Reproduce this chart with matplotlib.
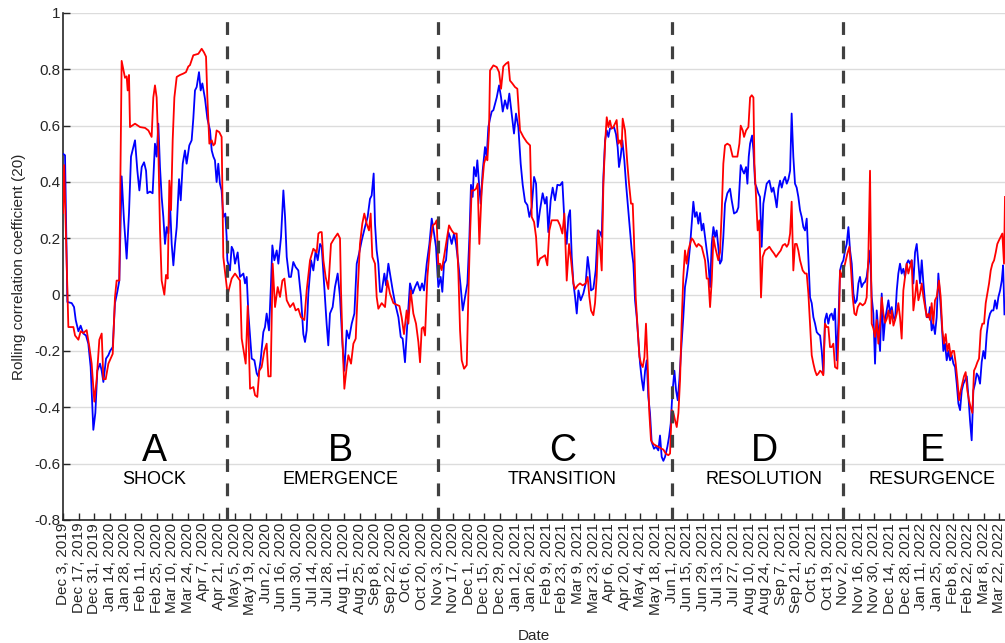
import numpy as np
import pandas as pd
import matplotlib
matplotlib.use("Agg")
import matplotlib.pyplot as plt

plt.rcParams["font.family"] = ["Liberation Sans", "DejaVu Sans"]

start = pd.Timestamp("2019-12-03")

# (days since Dec 3 2019, rolling correlation)
red_pts = [
    (0, 0.29), (1, 0.46), (4.8, -0.115), (9.3, -0.115), (10.8, -0.145), (13.8, -0.16),
    (15.8, -0.13), (18.2, -0.136), (21.2, -0.126), (23.6, -0.185), (25.7, -0.245),
    (28.1, -0.38), (30.2, -0.30), (32.6, -0.16), (34.7, -0.138), (36.2, -0.30),
    (38.3, -0.30), (40.7, -0.245), (44.6, -0.21), (46.6, -0.01), (48.1, 0.05),
    (50.5, 0.05), (52.6, 0.83), (55.6, 0.77), (57.1, 0.775), (58.0, 0.725), (59.2, 0.78),
    (60.1, 0.595), (64.6, 0.607), (69.1, 0.595), (73.6, 0.592), (76.6, 0.583),
    (79.5, 0.56), (81.0, 0.70), (82.5, 0.743), (84.0, 0.70), (85.5, 0.524), (87.0, 0.23),
    (88.5, 0.05), (90.9, 0.0), (92.4, 0.07), (93.9, 0.057), (95.4, 0.405), (96.9, 0.30),
    (98.4, 0.55), (99.9, 0.70), (102.0, 0.773), (105.0, 0.78), (108.0, 0.785),
    (110.3, 0.79), (112.4, 0.81), (113.9, 0.815), (116.9, 0.85), (121.4, 0.855),
    (124.4, 0.873), (126.5, 0.86), (128.3, 0.845), (129.5, 0.70), (131.3, 0.536),
    (133.4, 0.548), (134.9, 0.53), (136.3, 0.536), (137.8, 0.583), (140.2, 0.577),
    (142.3, 0.56), (143.8, 0.134), (146.2, 0.05), (147.7, 0.0),
    # phase B
    (151.3, 0.057), (154.3, 0.075), (158.8, 0.05), (160.3, -0.156), (163.9, -0.245),
    (165.7, -0.04), (167.8, -0.334), (170.8, -0.328), (172.3, -0.357), (174.3, -0.363),
    (176.1, -0.27), (178.2, -0.257), (180.6, -0.2), (182.7, -0.174), (184.2, -0.29),
    (186.3, -0.29), (188.1, 0.11), (190.2, -0.044), (192.6, 0.027), (194.7, -0.008),
    (196.8, 0.05), (198.6, 0.057), (200.7, -0.02), (203.7, -0.044), (206.6, -0.03),
    (208.7, -0.056), (211.1, -0.05), (213.5, -0.08), (216.5, -0.09), (218.6, 0.015),
    (221.6, 0.122), (224.6, 0.163), (227.6, 0.15), (229.1, 0.217), (230.6, 0.222),
    (232.1, 0.222), (233.6, 0.122), (235.6, 0.063), (238.0, 0.02), (240.4, 0.18),
    (243.4, 0.2), (246.4, 0.217), (248.5, 0.2), (249.4, 0.015), (250.6, -0.15),
    (252.4, -0.334), (254.5, -0.257), (256.0, -0.215), (258.4, -0.245), (260.5, -0.174),
    (262.6, -0.156), (264.4, 0.015), (266.4, 0.18), (268.5, 0.252), (270.3, 0.288),
    (272.4, 0.252), (274.5, 0.228), (276.0, 0.288), (277.5, 0.134), (279.9, 0.11),
    (281.4, -0.008), (282.9, -0.05), (285.9, -0.03), (288.9, -0.044), (291.0, 0.05),
    (293.3, 0.004), (296.4, -0.03), (299.4, -0.036), (301.8, -0.04), (303.8, -0.08),
    (305.9, -0.14), (308.3, -0.056), (309.8, -0.103), (311.9, 0.015), (314.3, -0.067),
    (316.7, -0.103), (318.8, -0.168), (320.3, -0.24), (321.8, -0.12), (323.3, -0.115),
    (324.8, -0.145), (326.9, 0.063), (329.3, 0.18), (331.7, 0.246), (333.7, 0.252),
    (335.2, 0.264),
    # phase C
    (337.0, 0.075), (338.2, 0.11), (339.7, 0.087), (341.8, 0.134), (344.2, 0.193),
    (346.3, 0.246), (348.7, 0.228), (350.8, 0.217), (353.2, 0.217), (354.7, 0.075),
    (356.2, -0.127), (357.7, -0.233), (359.8, -0.263), (362.2, -0.25), (363.6, -0.01),
    (365.1, 0.205), (366.6, 0.37), (368.7, 0.37), (370.5, 0.376), (372.0, 0.394),
    (373.5, 0.18), (375.6, 0.37), (377.7, 0.465), (379.5, 0.49), (380.7, 0.477),
    (382.2, 0.583), (383.1, 0.796), (386.1, 0.814), (389.1, 0.808), (391.2, 0.79),
    (393.0, 0.731), (395.0, 0.81), (397.4, 0.82), (399.5, 0.826), (401.0, 0.76),
    (403.1, 0.75), (405.5, 0.737), (407.6, 0.731), (410.0, 0.583), (413.0, 0.56),
    (416.0, 0.542), (419.0, 0.53), (420.5, 0.276), (422.6, 0.258), (424.4, 0.205),
    (425.9, 0.104), (427.9, 0.128), (430.3, 0.134), (432.4, 0.14), (434.5, 0.104),
    (436.3, 0.228), (438.4, 0.264), (441.4, 0.264), (443.8, 0.264), (445.9, 0.246),
    (448.0, 0.217), (449.8, 0.288), (451.9, 0.05), (454.0, 0.18), (455.8, 0.122),
    (457.9, 0.04), (459.4, 0.02), (461.7, 0.033), (463.8, 0.04), (466.2, 0.033),
    (468.9, 0.04), (470.7, 0.063), (472.2, -0.008), (473.7, -0.056), (475.8, -0.073),
    (477.3, -0.03), (478.8, 0.063), (480.3, 0.228), (481.8, 0.17), (483.3, 0.086),
    (484.8, 0.394), (486.3, 0.536), (487.8, 0.63), (489.3, 0.595), (490.7, 0.618),
    (492.2, 0.59), (493.7, 0.595), (495.2, 0.607), (496.7, 0.62), (498.2, 0.536),
    (499.7, 0.548), (501.2, 0.524), (502.1, 0.625), (504.2, 0.583), (506.3, 0.465),
    (507.8, 0.394), (509.6, 0.323), (511.1, 0.323), (512.3, 0.193), (513.8, -0.01),
    (515.6, -0.127), (517.1, -0.22), (518.6, -0.245), (520.1, -0.257), (521.6, -0.222),
    (523.0, -0.103), (524.5, -0.245), (526.0, -0.42), (527.5, -0.517), (529.6, -0.53),
    (532.0, -0.536), (534.1, -0.54), (536.5, -0.546), (538.6, -0.55), (540.7, -0.564),
    (543.1, -0.57), (544.6, -0.564),
    # phase D
    (546.1, -0.41), (547.6, -0.42), (549.1, -0.446), (550.6, -0.47), (552.1, -0.42),
    (553.6, -0.3), (555.0, -0.103), (556.5, 0.063), (558.0, 0.157), (559.5, 0.11),
    (561.0, 0.157), (562.5, 0.18), (564.0, 0.2), (565.5, 0.193), (567.0, 0.18),
    (568.5, 0.17), (570.0, 0.18), (573.0, 0.17), (576.0, 0.122), (577.5, 0.057),
    (579.0, 0.057), (580.5, -0.044), (582.0, 0.05), (583.5, 0.205), (585.0, 0.17),
    (586.4, 0.146), (587.9, 0.122), (589.4, 0.15), (590.9, 0.288), (592.4, 0.465),
    (593.9, 0.53), (596.0, 0.536), (598.4, 0.53), (600.8, 0.49), (602.9, 0.49),
    (605.0, 0.49), (606.8, 0.536), (608.0, 0.60), (609.8, 0.583), (611.0, 0.56),
    (612.8, 0.583), (614.9, 0.595), (616.4, 0.70), (617.9, 0.708), (619.4, 0.70),
    (620.3, 0.465), (621.7, 0.347), (623.2, 0.228), (624.7, 0.264), (626.2, -0.01),
    (627.7, 0.134), (629.8, 0.157), (631.9, 0.163), (633.7, 0.17), (635.8, 0.157),
    (637.9, 0.146), (639.7, 0.134), (641.8, 0.146), (643.9, 0.157), (645.7, 0.175),
    (647.8, 0.18), (649.3, 0.17), (650.8, 0.18), (652.3, 0.217), (653.7, 0.33),
    (655.2, 0.086), (656.7, 0.18), (658.2, 0.18), (659.7, 0.157), (661.2, 0.122),
    (663.6, 0.086), (665.7, 0.075), (667.2, 0.075), (668.7, 0.004), (670.2, -0.103),
    (671.7, -0.215), (673.2, -0.245), (674.7, -0.27), (676.2, -0.286), (677.7, -0.28),
    (679.2, -0.27), (680.7, -0.275), (682.1, -0.286), (683.6, -0.103), (685.1, -0.115),
    (686.6, -0.115), (688.1, -0.186), (689.6, -0.186), (691.1, -0.174), (692.6, -0.257),
    (694.7, -0.263), (696.2, -0.09),
    # phase E
    (697.1, 0.086), (698.6, 0.063), (700.1, 0.086), (701.6, 0.11), (703.7, 0.146),
    (705.5, 0.17), (707.0, 0.086), (708.5, -0.01), (710.0, -0.067), (711.5, -0.073),
    (713.0, -0.044), (715.0, -0.03), (717.4, -0.038), (719.5, -0.03), (721.0, -0.01),
    (722.5, 0.134), (724.0, 0.44), (725.5, -0.103), (727.0, -0.12), (728.5, -0.15),
    (730.0, -0.09), (731.5, -0.174), (733.0, -0.103), (734.5, -0.01), (736.0, -0.067),
    (737.5, -0.1), (739.0, -0.086), (740.5, -0.056), (742.0, -0.103), (743.5, -0.056),
    (745.0, -0.11), (746.5, -0.09), (748.0, -0.067), (749.4, -0.03), (750.9, -0.08),
    (752.4, -0.156), (753.9, 0.015), (755.4, 0.063), (756.9, 0.11), (758.4, 0.075),
    (759.9, 0.098), (761.4, 0.122), (762.9, -0.056), (764.4, -0.008), (765.9, 0.05),
    (767.4, -0.02), (768.9, 0.004), (770.4, 0.04), (771.9, -0.008), (773.4, -0.044),
    (774.9, -0.08), (776.4, -0.068), (777.8, -0.09), (779.3, -0.03), (780.8, -0.103),
    (782.3, -0.02), (783.8, -0.008), (785.9, 0.05), (787.4, -0.008), (788.9, -0.127),
    (790.4, -0.174), (791.9, -0.14), (793.4, -0.2), (794.9, -0.174), (796.4, -0.22),
    (797.9, -0.2), (799.4, -0.2), (800.9, -0.245), (802.4, -0.304), (803.9, -0.375),
    (805.4, -0.34), (806.8, -0.316), (808.3, -0.29), (809.8, -0.275), (811.3, -0.34),
    (812.8, -0.375), (814.3, -0.4), (815.8, -0.42), (817.3, -0.27), (818.8, -0.257),
    (820.3, -0.24), (821.8, -0.227), (823.3, -0.127), (824.8, -0.103), (826.3, -0.103),
    (827.8, -0.03), (829.3, 0.004), (830.8, 0.04), (832.3, 0.086), (833.8, 0.11),
    (835.3, 0.122), (836.8, 0.15), (838.2, 0.18), (839.7, 0.193), (841.2, 0.205),
    (842.7, 0.217), (844.2, 0.11), (845.1, 0.347),
]

blue_pts = [
    (0, 0.50), (1.8, 0.495), (3.9, -0.026), (7.8, -0.03), (9.9, -0.044), (11.4, -0.09),
    (13.8, -0.13), (15.8, -0.11), (18.2, -0.138), (20.6, -0.145), (22.7, -0.174),
    (24.8, -0.257), (27.2, -0.48), (29.0, -0.42), (30.8, -0.27), (33.2, -0.245),
    (34.7, -0.27), (36.2, -0.31), (38.6, -0.227), (40.7, -0.215), (42.2, -0.2),
    (44.6, -0.186), (46.6, -0.03), (48.7, 0.01), (50.5, 0.05), (52.6, 0.42),
    (54.7, 0.264), (57.1, 0.128), (59.2, 0.29), (61.0, 0.49), (63.1, 0.524),
    (64.6, 0.548), (66.7, 0.44), (68.5, 0.37), (70.6, 0.453), (72.7, 0.47), (74.5, 0.44),
    (75.7, 0.36), (78.0, 0.366), (80.4, 0.36), (82.5, 0.536), (84.0, 0.49),
    (85.5, 0.607), (87.0, 0.453), (88.5, 0.347), (90.0, 0.276), (91.5, 0.18),
    (93.0, 0.24), (94.5, 0.217), (96.0, 0.323), (97.5, 0.18), (99.0, 0.104),
    (100.5, 0.18), (102.0, 0.24), (104.1, 0.41), (105.6, 0.335), (107.4, 0.465),
    (109.4, 0.512), (110.9, 0.465), (113.3, 0.53), (115.4, 0.548), (116.9, 0.625),
    (118.4, 0.725), (119.9, 0.737), (122.0, 0.79), (123.5, 0.725), (125.0, 0.75),
    (127.4, 0.695), (129.5, 0.625), (131.9, 0.583), (133.4, 0.512), (134.9, 0.49),
    (136.3, 0.477), (137.8, 0.40), (139.3, 0.465), (140.8, 0.394), (142.3, 0.37),
    (143.8, 0.276), (145.6, 0.288), (146.8, 0.205), (147.4, 0.122), (149.8, 0.086),
    # phase B
    (151.3, 0.17), (152.8, 0.157), (154.3, 0.11), (156.7, 0.15), (158.8, 0.063),
    (161.8, 0.075), (163.3, 0.04), (164.8, 0.063), (166.3, -0.067), (169.3, -0.227),
    (171.7, -0.233), (173.8, -0.28), (175.2, -0.29), (177.3, -0.233), (179.7, -0.133),
    (181.2, -0.115), (182.7, -0.067), (184.8, -0.127), (186.6, 0.04), (187.8, 0.175),
    (189.6, 0.122), (191.7, 0.157), (193.2, 0.11), (195.6, 0.205), (197.7, 0.37),
    (199.2, 0.276), (200.7, 0.134), (202.8, 0.063), (204.5, 0.063), (206.6, 0.116),
    (208.7, 0.098), (211.1, 0.086), (213.5, -0.008), (215.6, -0.14), (217.1, -0.168),
    (218.6, -0.127), (220.1, 0.004), (222.5, 0.122), (224.6, 0.086), (226.7, 0.157),
    (228.5, 0.122), (230.6, 0.18), (232.1, 0.17), (234.2, 0.04), (236.5, -0.103),
    (238.0, -0.18), (239.5, -0.067), (241.9, -0.044), (244.0, 0.027), (246.4, 0.075),
    (248.5, -0.008), (250.6, -0.168), (252.4, -0.27), (254.5, -0.127), (256.6, -0.156),
    (259.0, -0.103), (261.4, -0.067), (263.5, 0.11), (265.6, 0.146), (268.0, 0.193),
    (270.9, 0.24), (273.3, 0.276), (275.4, 0.34), (276.9, 0.352), (278.7, 0.43),
    (279.9, 0.252), (281.4, 0.157), (282.9, 0.11), (284.4, 0.01), (285.9, 0.01),
    (288.3, 0.075), (289.8, 0.033), (291.9, 0.11), (294.3, 0.05), (295.8, 0.015),
    (297.9, -0.03), (300.9, -0.08), (303.0, -0.15), (304.7, -0.156), (306.8, -0.24),
    (308.9, -0.103), (311.3, 0.04), (313.7, 0.004), (315.8, 0.027), (317.9, 0.045),
    (320.3, 0.015), (322.1, 0.04), (323.9, 0.015), (326.3, 0.11), (328.7, 0.18),
    (330.8, 0.27), (332.9, 0.217), (334.6, 0.17),
    # phase C
    (336.7, 0.027), (338.8, 0.063), (340.3, 0.01), (341.8, 0.11), (343.6, 0.122),
    (345.7, 0.222), (347.2, 0.205), (348.7, 0.18), (350.8, 0.217), (352.6, 0.18),
    (354.7, 0.11), (356.8, 0.027), (358.6, -0.056), (360.7, -0.008), (362.8, 0.04),
    (364.6, 0.205), (366.0, 0.39), (367.5, 0.347), (368.7, 0.453), (370.5, 0.42),
    (371.7, 0.477), (373.5, 0.38), (374.7, 0.323), (376.5, 0.44), (378.6, 0.524),
    (380.1, 0.49), (381.6, 0.595), (383.1, 0.625), (384.6, 0.65), (386.1, 0.655),
    (387.6, 0.678), (389.1, 0.70), (391.2, 0.743), (393.0, 0.70), (394.5, 0.65),
    (396.5, 0.69), (398.6, 0.66), (400.4, 0.714), (402.5, 0.643), (404.6, 0.572),
    (406.4, 0.643), (408.5, 0.595), (410.6, 0.465), (412.4, 0.39), (414.5, 0.33),
    (416.6, 0.318), (418.4, 0.276), (420.5, 0.31), (422.6, 0.418), (424.4, 0.394),
    (425.9, 0.24), (427.9, 0.3), (430.3, 0.36), (432.4, 0.323), (433.9, 0.347),
    (435.4, 0.222), (437.5, 0.335), (439.3, 0.38), (441.4, 0.335), (443.5, 0.39),
    (445.9, 0.388), (448.0, 0.40), (449.8, 0.264), (451.9, 0.18), (453.4, 0.276),
    (454.9, 0.30), (456.4, 0.134), (457.9, 0.04), (459.4, -0.008), (460.9, -0.067),
    (462.4, 0.015), (464.4, -0.02), (466.8, 0.004), (468.9, 0.04), (470.7, 0.134),
    (472.2, 0.086), (473.7, 0.015), (475.8, 0.021), (477.9, 0.086), (479.7, 0.228),
    (481.8, 0.222), (483.3, 0.205), (484.8, 0.418), (486.3, 0.548), (487.8, 0.583),
    (489.3, 0.56), (490.7, 0.59), (492.2, 0.59), (494.3, 0.595), (496.1, 0.57),
    (497.6, 0.524), (498.8, 0.453), (500.3, 0.49), (501.8, 0.548), (503.6, 0.477),
    (505.1, 0.394), (506.6, 0.323), (508.7, 0.228), (510.2, 0.157), (511.7, 0.11),
    (513.2, -0.02), (514.7, -0.08), (516.2, -0.162), (517.7, -0.245), (519.2, -0.3),
    (520.7, -0.34), (522.2, -0.27), (523.7, -0.233), (525.1, -0.363), (526.6, -0.42),
    (528.1, -0.523), (530.2, -0.547), (532.0, -0.54), (534.1, -0.553), (535.6, -0.5),
    (537.1, -0.576), (538.6, -0.59), (540.1, -0.576), (542.2, -0.54), (543.7, -0.505),
    (545.2, -0.458),
    # phase D
    (546.7, -0.35), (548.5, -0.27), (550.0, -0.34), (551.5, -0.375), (553.0, -0.30),
    (554.5, -0.2), (556.5, -0.08), (558.0, 0.027), (559.5, 0.063), (561.0, 0.11),
    (562.5, 0.17), (564.0, 0.252), (565.5, 0.33), (567.0, 0.276), (568.5, 0.293),
    (570.0, 0.252), (571.5, 0.29), (573.0, 0.228), (574.5, 0.252), (576.0, 0.205),
    (577.5, 0.157), (579.0, 0.11), (580.5, 0.027), (582.0, 0.18), (583.5, 0.24),
    (585.0, 0.205), (586.4, 0.228), (587.9, 0.17), (589.4, 0.11), (590.9, 0.122),
    (592.4, 0.205), (593.9, 0.323), (596.0, 0.36), (598.4, 0.376), (599.9, 0.335),
    (602.0, 0.288), (604.4, 0.294), (605.9, 0.31), (608.0, 0.46), (609.8, 0.44),
    (611.0, 0.43), (612.8, 0.453), (614.0, 0.394), (615.2, 0.49), (616.4, 0.536),
    (618.2, 0.565), (619.4, 0.513), (620.9, 0.394), (622.3, 0.38), (623.8, 0.36),
    (625.3, 0.347), (626.8, 0.17), (628.3, 0.323), (629.8, 0.36), (631.3, 0.394),
    (633.7, 0.405), (635.8, 0.365), (637.3, 0.38), (638.8, 0.347), (640.3, 0.31),
    (641.8, 0.376), (643.3, 0.405), (644.8, 0.38), (646.3, 0.405), (647.8, 0.418),
    (649.3, 0.394), (650.8, 0.41), (652.3, 0.44), (653.7, 0.643), (655.2, 0.49),
    (656.7, 0.394), (658.2, 0.38), (659.7, 0.347), (661.2, 0.30), (662.7, 0.276),
    (664.2, 0.24), (665.7, 0.228), (667.2, 0.27), (668.7, 0.134), (670.2, -0.01),
    (671.7, -0.03), (673.2, -0.08), (674.7, -0.103), (676.2, -0.133), (677.7, -0.14),
    (679.2, -0.145), (680.7, -0.2), (682.1, -0.28), (683.6, -0.09), (685.1, -0.067),
    (686.6, -0.103), (688.1, -0.073), (689.6, -0.067), (691.1, -0.09), (692.6, -0.05),
    (694.1, -0.233), (695.6, -0.103),
    # phase E
    (697.1, 0.086), (698.6, 0.11), (700.1, 0.122), (701.6, 0.157), (703.1, 0.18),
    (704.6, 0.24), (706.1, 0.157), (707.6, 0.11), (709.1, 0.004), (710.6, -0.03),
    (712.1, -0.02), (713.6, 0.04), (715.0, 0.063), (716.5, 0.027), (718.0, 0.04),
    (719.5, 0.045), (721.0, 0.063), (722.5, 0.11), (724.0, 0.157), (725.5, -0.008),
    (727.0, -0.067), (728.5, -0.245), (730.0, -0.056), (731.5, -0.127), (733.0, -0.2),
    (734.5, 0.004), (736.0, -0.162), (737.5, -0.09), (739.0, -0.056), (740.5, -0.02),
    (742.0, -0.067), (743.5, -0.044), (745.0, -0.08), (746.5, -0.09), (748.0, 0.015),
    (749.4, 0.075), (750.9, 0.11), (752.4, 0.075), (753.9, 0.092), (755.4, 0.063),
    (756.9, 0.11), (758.4, 0.122), (759.9, 0.11), (761.4, 0.122), (762.9, 0.04),
    (764.4, 0.15), (765.9, 0.18), (767.4, 0.11), (768.9, 0.04), (770.4, 0.122),
    (771.9, 0.04), (773.4, -0.03), (774.9, -0.08), (776.4, -0.08), (777.8, -0.044),
    (779.3, -0.127), (780.8, -0.103), (782.3, -0.14), (783.8, -0.08), (785.3, 0.075),
    (786.8, -0.008), (788.3, -0.1), (789.8, -0.2), (791.3, -0.174), (792.8, -0.233),
    (794.3, -0.2), (795.8, -0.233), (797.3, -0.215), (798.8, -0.245), (800.3, -0.257),
    (801.8, -0.316), (803.3, -0.387), (804.8, -0.41), (806.3, -0.34), (807.8, -0.316),
    (809.3, -0.304), (810.8, -0.29), (812.3, -0.363), (813.7, -0.446), (815.2, -0.517),
    (816.7, -0.34), (818.2, -0.316), (819.7, -0.28), (821.2, -0.29), (822.7, -0.316),
    (824.2, -0.239), (825.7, -0.2), (827.2, -0.227), (828.7, -0.14), (830.2, -0.09),
    (831.7, -0.067), (833.2, -0.056), (834.7, -0.056), (836.2, -0.02), (837.7, -0.05),
    (839.2, -0.008), (840.7, 0.015), (842.2, 0.05), (843.4, 0.104), (844.6, -0.07),
]

phase_bounds = ["2020-04-28", "2020-11-03", "2021-06-01", "2021-11-02"]
phase_letters = ["A", "B", "C", "D", "E"]
phase_names = ["SHOCK", "EMERGENCE", "TRANSITION", "RESOLUTION", "RESURGENCE"]
phase_mid_days = [82, 249, 448, 629, 780]

x_ticks = pd.date_range("2019-12-03", "2022-03-22", freq="14D")
y_ticks = [-0.8, -0.6, -0.4, -0.2, 0, 0.2, 0.4, 0.6, 0.8, 1]


def to_dates(days):
    return start + pd.to_timedelta(np.asarray(days, dtype=float), unit="D")


red_d, red_v = zip(*red_pts)
blue_d, blue_v = zip(*blue_pts)

fig = plt.figure(figsize=(10.05, 6.43), dpi=100)
ax = fig.add_axes([0.0627, 0.1913, 0.9373, 0.7885])

ax.plot(to_dates(blue_d), blue_v, color="#0000ff", lw=1.3, zorder=3)
ax.plot(to_dates(red_d), red_v, color="#ff0000", lw=1.3, zorder=3)

for b in phase_bounds:
    ax.axvline(pd.Timestamp(b), color="#404040", lw=2.3, ls=(0, (4, 3.6)), zorder=4)

for d, letter, name in zip(phase_mid_days, phase_letters, phase_names):
    x = start + pd.Timedelta(days=d)
    ax.text(x, -0.555, letter, fontsize=27, ha="center", va="center")
    ax.text(x, -0.658, name, fontsize=13, ha="center", va="center")

ax.set_xlim(start, start + pd.Timedelta(days=845.1))
ax.set_ylim(-0.8, 1)

ax.set_xticks(x_ticks)
ax.set_xticklabels([f"{d:%b} {d.day}, {d.year}" for d in x_ticks], rotation=90, fontsize=11)
ax.set_yticks(y_ticks)
ax.set_yticklabels([f"{v:g}" for v in y_ticks], fontsize=11)

ax.grid(axis="y", color="#dcdcdc", lw=1)
ax.set_axisbelow(True)
ax.tick_params(direction="in", length=5, width=1, color="#262626", labelcolor="#262626", pad=2)
for s in ["top", "right"]:
    ax.spines[s].set_visible(False)
for s in ["left", "bottom"]:
    ax.spines[s].set_color("#262626")
    ax.spines[s].set_linewidth(1.2)

ax.set_ylabel("Rolling correlation coefficient (20)", fontsize=11, color="#262626", labelpad=6)
ax.set_xlabel("Date", fontsize=11, color="#262626", labelpad=10)

fig.savefig("out.png", dpi=100)
